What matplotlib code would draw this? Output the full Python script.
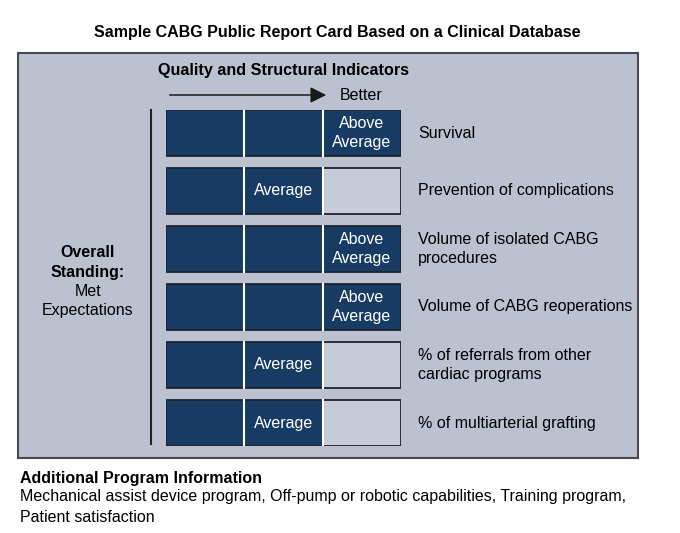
import matplotlib
matplotlib.use("Agg")
import matplotlib.pyplot as plt
from matplotlib.patches import Rectangle, FancyArrowPatch

plt.rcParams['font.family'] = ['Liberation Sans', 'DejaVu Sans']

title = "Sample CABG Public Report Card Based on a Clinical Database"
header = "Quality and Structural Indicators"
indicators = ["Survival", "Prevention of complications", "Volume of isolated CABG\nprocedures",
              "Volume of CABG reoperations", "% of referrals from other\ncardiac programs",
              "% of multiarterial grafting"]
ratings = [3, 2, 3, 3, 2, 2]
level_names = ["Below\nAverage", "Average", "Above\nAverage"]
overall = "Met\nExpectations"
footer_title = "Additional Program Information"
footer_text = "Mechanical assist device program, Off-pump or robotic capabilities, Training program,\nPatient satisfaction"

DARK = "#173b63"
LIGHT = "#c8ccd9"
PANEL = "#bcc1cf"

W, H = 680, 533
fig = plt.figure(figsize=(W / 100, H / 100), dpi=100)
bg = fig.add_axes([0, 0, 1, 1])
bg.set_xlim(0, W)
bg.set_ylim(H, 0)
bg.axis("off")

LS = 1.38

bg.add_patch(Rectangle((18, 53), 620, 405, facecolor=PANEL, edgecolor="#4a4a55", lw=1.5))
bg.text(337, 32, title, ha="center", va="center", fontsize=11.5, fontweight="bold")
bg.text(283, 71, header, ha="center", va="center", fontsize=11.6, fontweight="bold")
bg.add_patch(FancyArrowPatch((167, 95), (329, 95), arrowstyle="-|>,head_length=6,head_width=3",
                             color="#1a1a1a", lw=1.1, mutation_scale=1.6))
bg.text(340, 95, "Better", ha="left", va="center", fontsize=11.5)
bg.plot([151, 151], [110, 444], color="#222222", lw=1.5)
bg.text(88, 262.5, "Overall\nStanding:", ha="center", va="center", fontsize=11.5,
        fontweight="bold", linespacing=LS)
bg.text(88, 301, overall, ha="center", va="center", fontsize=11.5, linespacing=LS)
bg.text(20, 478, footer_title, ha="left", va="center", fontsize=11.5, fontweight="bold")
bg.text(20, 507, footer_text, ha="left", va="center", fontsize=11.5, linespacing=1.42)

# bars axes: x 166-401 px, y 110-446 px
x0, x1, y0, y1 = 166, 401, 110, 446
ax = fig.add_axes([x0 / W, 1 - y1 / H, (x1 - x0) / W, (y1 - y0) / H])
n = len(ratings)
hfrac = 46 / 58
pad = hfrac / 2
ax.set_xlim(0, 3)
ax.set_ylim(n - 1 + pad, -pad)
ax.axis("off")

for i, r in enumerate(ratings):
    for s in range(3):
        ax.barh(i, 1, left=s, height=hfrac, color=DARK if s < r else LIGHT, edgecolor="none")
    for s in (1, 2):
        ax.plot([s, s], [i - hfrac / 2, i + hfrac / 2], color="white", lw=1.5)
    ax.barh(i, 3, left=0, height=hfrac, fill=False, edgecolor="#1e2230", lw=1.3)
    ax.text(r - 0.5, i, level_names[r - 1], ha="center", va="center", color="white",
            fontsize=11.5, linespacing=LS)
    ax.text(3.22, i, indicators[i], ha="left", va="center", fontsize=11.5,
            linespacing=LS, clip_on=False)

fig.savefig("out.png", dpi=100)
